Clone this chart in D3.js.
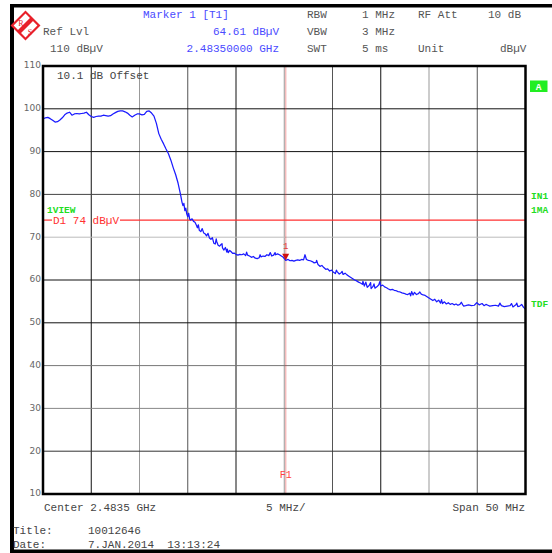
<!DOCTYPE html>
<html><head><meta charset="utf-8">
<script src="https://cdn.jsdelivr.net/npm/d3@7"></script>
<style>body{margin:0;background:#fff}svg{display:block}text{white-space:pre}</style>
</head><body>
<svg id="c" width="552" height="553"></svg>
<script>
// ---- data ----
const yTicks = [110,100,90,80,70,60,50,40,30,20,10];
const xGrid = [-20,-15,-10,-5,0,5,10,15,20];
const xGridTone = ["#111","#999","#555","#111","#999","#555","#111","#999","#555"];
const yGridTone = {100:"#111",90:"#111",80:"#444",70:"#bbb",60:"#111",50:"#111",40:"#777",30:"#888",20:"#333"};
const displayLine = 74;      // D1 74 dBµV
const markerFreq = 0.15;     // MHz offset of marker 1 / F1
const markerLevel = 64.61;
const headerLeft = [["Ref Lvl",43,35],["110 dBµV",50,52]];
const headerMarker = [["Marker 1 [T1]",143,18,"start"],["64.61 dBµV",279,35,"end"],["2.48350000 GHz",279,52,"end"]];
const headerRight = [["RBW",307,18],["1 MHz",362,18],["RF Att",418,18],["10 dB",488,18],
  ["VBW",307,35],["3 MHz",362,35],["SWT",307,52],["5 ms",362,52],["Unit",418,52],["dBµV",500,52]];
const footer = [["Center 2.4835 GHz",44,511,"start"],["5 MHz/",266,511,"start"],["Span 50 MHz",525,511,"end"],
  ["Title:",13,534,"start"],["10012646",88,534,"start"],["Date:",13,548,"start"],["7.JAN.2014  13:13:24",88,548,"start"]];
// trace: [frequency offset from centre (MHz), level (dBµV)]
const trace = [
[-25,97.6],[-24.75,97.9],[-24.5,98.0],[-24.25,97.7],[-24,97.3],[-23.75,96.9],[-23.5,97.0],[-23.25,97.4],
[-23,97.9],[-22.75,98.6],[-22.5,99.0],[-22.25,99.2],[-22,98.5],[-21.75,98.8],[-21.5,98.9],[-21.25,98.8],
[-21,98.9],[-20.75,99.0],[-20.5,99.2],[-20.25,98.6],[-20,98.2],[-19.75,98.0],[-19.5,98.2],[-19.25,98.3],
[-19,98.3],[-18.75,98.5],[-18.5,98.4],[-18.25,98.3],[-18,98.4],[-17.75,98.8],[-17.5,99.1],[-17.25,99.4],
[-17,99.5],[-16.75,99.5],[-16.5,99.3],[-16.25,99.0],[-16,98.5],[-15.75,98.1],[-15.5,98.5],[-15.25,98.8],
[-15,98.8],[-14.75,98.6],[-14.5,98.7],[-14.25,99.4],[-14,99.5],[-13.75,99.0],[-13.5,98.3],[-13.25,96.6],
[-13,94.2],[-12.75,92.9],[-12.5,91.8],[-12.25,90.6],[-12,89.5],[-11.75,88.0],[-11.5,86.2],[-11.25,84.6],
[-11,82.6],[-10.75,80.0],[-10.6,78.2],[-10.5,77.4],[-10.4,77.9],[-10.3,76.2],[-10.2,76.8],[-10.1,75.4],
[-10,74.8],[-9.9,75.6],[-9.8,74.2],[-9.7,74.0],[-9.55,74.3],[-9.4,73.7],[-9.25,73.5],[-9.1,72.8],
[-9,72.2],[-8.9,72.9],[-8.8,71.6],[-8.65,71.3],[-8.5,72.0],[-8.35,71.0],[-8.2,70.8],[-8.05,70.3],
[-7.9,70.9],[-7.75,69.8],[-7.6,69.5],[-7.45,69.9],[-7.3,68.6],[-7.15,68.4],[-7.05,69.6],[-7,69.0],[-6.85,68.1],
[-6.7,67.9],[-6.55,68.3],[-6.45,68.5],[-6.4,67.5],[-6.25,67.0],[-6.1,67.6],[-5.95,66.5],[-5.9,67.2],[-5.8,66.4],[-5.65,66.9],
[-5.5,66.6],[-5.35,66.2],[-5.2,66.3],[-5,66.0],[-4.8,65.8],[-4.6,66.0],[-4.4,65.9],[-4.2,66.1],
[-4,65.7],[-3.9,66.5],[-3.8,65.8],[-3.6,65.6],[-3.4,65.3],[-3.2,65.5],[-3,65.1],[-2.8,65.0],[-2.6,65.2],
[-2.5,65.9],[-2.4,65.4],[-2.2,65.6],[-2,65.5],[-1.8,65.9],[-1.6,65.7],[-1.45,66.4],[-1.3,65.6],[-1.1,65.8],
[-0.95,66.4],[-0.9,65.9],[-0.7,66.1],[-0.5,65.9],[-0.3,65.6],[-0.1,65.3],[0.15,64.6],[0.4,64.8],[0.6,64.5],
[0.8,64.6],[1,64.4],[1.2,64.6],[1.4,64.7],[1.6,64.6],[1.8,64.8],[2,64.7],[2.15,65.9],
[2.3,64.8],[2.5,64.6],[2.7,64.5],[2.9,64.3],[3.1,64.0],[3.3,64.1],[3.35,64.6],[3.5,63.6],[3.7,63.2],
[3.9,63.4],[4.1,62.9],[4.3,62.5],[4.5,62.6],[4.7,62.1],[4.9,62.3],[5.1,61.8],[5.3,61.5],[5.4,62.3],
[5.5,61.9],[5.7,61.4],[5.9,61.7],[6,62.0],[6.1,61.3],[6.3,61.6],[6.5,61.2],[6.7,60.9],[6.9,60.6],
[7.1,60.3],[7.3,60.0],[7.5,59.8],[7.7,59.5],[7.9,59.3],[8.1,59.0],[8.15,59.7],[8.3,58.6],[8.45,59.5],
[8.6,58.3],[8.8,58.7],[8.95,59.4],[9,58.0],[9.2,58.5],[9.3,59.1],[9.4,58.1],[9.6,58.4],[9.8,58.9],[9.9,59.6],[10,58.6],
[10.2,58.8],[10.4,58.4],[10.6,58.2],[10.8,57.9],[11,57.7],[11.2,57.8],[11.4,57.6],[11.6,57.5],
[11.8,57.3],[12,57.2],[12.2,57.0],[12.4,56.9],[12.6,56.7],[12.8,56.6],[13,56.9],[13.1,56.3],[13.2,57.3],
[13.35,56.5],[13.5,57.1],[13.7,56.6],[13.9,56.8],[14.05,57.2],[14.2,56.7],[14.4,56.5],[14.6,56.4],
[14.8,56.1],[15,55.8],[15.2,55.5],[15.4,55.2],[15.6,55.5],[15.8,54.9],[16,55.3],[16.2,54.6],[16.3,55.4],
[16.4,54.5],[16.6,54.9],[16.8,54.4],[17,54.7],[17.2,54.3],[17.4,54.5],[17.6,54.2],[17.8,54.4],
[18,54.1],[18.2,54.3],[18.35,54.8],[18.5,54.2],[18.6,53.9],[18.8,54.0],[19.1,54.2],[19.4,54.0],[19.7,54.1],[19.95,54.7],
[20.2,54.2],[20.5,54.5],[20.7,54.0],[20.9,54.3],[21.1,54.1],[21.3,53.9],[21.6,54.0],[21.9,54.1],
[22.2,53.9],[22.35,54.6],[22.5,54.0],[22.8,53.8],[23.1,53.9],[23.4,54.0],[23.55,54.5],[23.7,53.7],[24,54.2],[24.1,54.6],[24.2,53.8],
[24.4,53.9],[24.6,54.3],[24.8,53.6],[25,53.2]];

// ---- drawing ----
const svg = d3.select("#c");
const mono = "'Liberation Mono','DejaVu Sans Mono',monospace";
const L=43, R=525.5, T=66, B=494;
const x = d3.scaleLinear().domain([-25,25]).range([L,R]);
const y = d3.scaleLinear().domain([10,110]).range([B,T]);

// outer frame
svg.append("rect").attr("x",10).attr("y",4).attr("width",542).attr("height",3.5).attr("fill","#000");
svg.append("rect").attr("x",10).attr("y",4).attr("width",4).attr("height",549).attr("fill","#000");
svg.append("rect").attr("x",10).attr("y",549.5).attr("width",542).attr("height",3.5).attr("fill","#000");

// logo
const lg = svg.append("g").attr("transform","translate(25.5,25.5) rotate(45)");
lg.append("rect").attr("x",-9.5).attr("y",-9.5).attr("width",19).attr("height",19).attr("fill","#fff").attr("stroke","#e8202a").attr("stroke-width",2.2);
lg.append("rect").attr("x",-2.2).attr("y",-9.5).attr("width",4.4).attr("height",19).attr("fill","#e8202a");
svg.append("text").attr("x",21).attr("y",26).attr("font-family","'Liberation Serif',serif").attr("font-size",8).attr("fill","#e8202a").attr("text-anchor","middle").text("R");
svg.append("text").attr("x",30).attr("y",35).attr("font-family","'Liberation Serif',serif").attr("font-size",8).attr("fill","#e8202a").attr("text-anchor","middle").text("S");

// header texts
const txt = (s,xx,yy,col,anchor,size) => svg.append("text").attr("x",xx).attr("y",yy)
  .attr("font-family",mono).attr("font-size",size||11).attr("fill",col).attr("text-anchor",anchor||"start")
  .attr("xml:space","preserve").text(s);
headerLeft.forEach(d=>txt(d[0],d[1],d[2],"#555"));
headerMarker.forEach(d=>txt(d[0],d[1],d[2],"#4a4aff",d[3]));
headerRight.forEach(d=>txt(d[0],d[1],d[2],"#555"));

// grid
const grid = svg.append("g");
xGrid.forEach((f,i)=>grid.append("line").attr("x1",x(f)).attr("x2",x(f)).attr("y1",T).attr("y2",B)
  .attr("stroke",xGridTone[i]).attr("stroke-width",1));
yTicks.filter(v=>v>10&&v<110).forEach(v=>grid.append("line").attr("x1",L).attr("x2",R).attr("y1",y(v)).attr("y2",y(v))
  .attr("stroke",yGridTone[v]).attr("stroke-width",1));

// y axis labels
const yAxis = d3.axisLeft(y).tickValues(yTicks).tickSize(0).tickPadding(1);
const ga = svg.append("g").attr("transform",`translate(${L-1},0)`).call(yAxis);
ga.select(".domain").remove();
ga.selectAll("text").attr("font-family","'DejaVu Sans',sans-serif").attr("font-size",9).attr("fill","#666").attr("dy","0.2em");

// marker / F1 vertical line
svg.append("line").attr("x1",x(markerFreq)).attr("x2",x(markerFreq)).attr("y1",T).attr("y2",B)
  .attr("stroke","#e03030").attr("stroke-opacity",0.32).attr("stroke-width",1.5);

// display line D1
svg.append("line").attr("x1",L).attr("x2",52).attr("y1",y(displayLine)).attr("y2",y(displayLine)).attr("stroke","#ff3030").attr("stroke-width",1.2);
svg.append("line").attr("x1",120).attr("x2",R).attr("y1",y(displayLine)).attr("y2",y(displayLine)).attr("stroke","#ff3030").attr("stroke-width",1.2);
txt("D1 74 dBµV",53,y(displayLine)+3.5,"#ff3030");
txt("1VIEW",47,213,"#22dd22","start",9.5).attr("font-weight","bold");

// trace
const line = d3.line().x(d=>x(d[0])).y(d=>y(d[1]));
svg.append("path").datum(trace).attr("d",line).attr("fill","none").attr("stroke","#1a1aff").attr("stroke-width",1.25).attr("stroke-linejoin","round");

// marker 1
const mx = x(markerFreq), my = y(markerLevel);
svg.append("path").attr("d",`M${mx-3.5},${my-6.5}L${mx+3.5},${my-6.5}L${mx},${my}Z`).attr("fill","#d01010");
txt("1",mx,my-11,"#e04040","middle",9);
txt("F1",mx,478,"#ff4040","middle",10);

// plot border
svg.append("rect").attr("x",L).attr("y",T).attr("width",R-L).attr("height",B-T).attr("fill","none").attr("stroke","#000").attr("stroke-width",2.5);

// offset text
txt("10.1 dB Offset",57,79,"#444");

// right-side annotations
svg.append("rect").attr("x",530).attr("y",80.5).attr("width",17.5).attr("height",11.5).attr("fill","#22ee22");
txt("A",538.7,89.5,"#fff","middle",9.5).attr("font-weight","bold");
txt("IN1",531,199,"#22dd22","start",9.5).attr("font-weight","bold");
txt("1MA",531,213,"#22dd22","start",9.5).attr("font-weight","bold");
txt("TDF",531,307,"#22dd22","start",9.5).attr("font-weight","bold");

// footer
footer.forEach(d=>txt(d[0],d[1],d[2],"#444",d[3]));
</script>
</body></html>
